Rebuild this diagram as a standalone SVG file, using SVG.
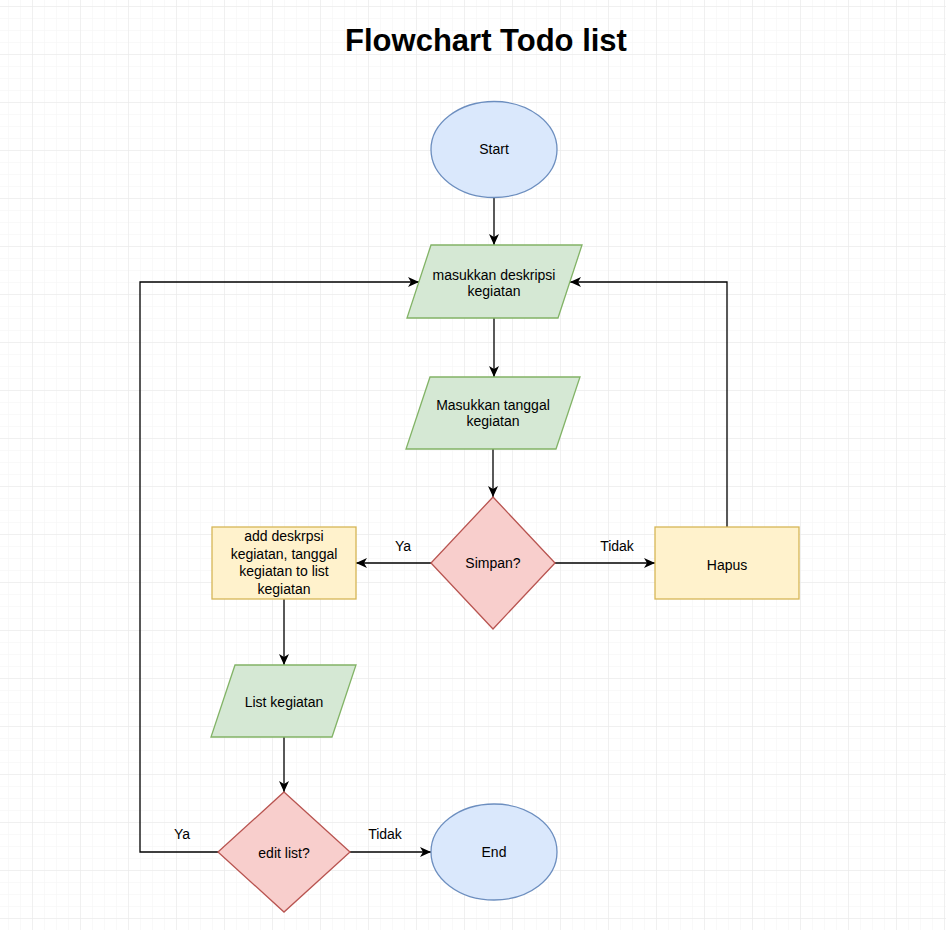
<svg xmlns="http://www.w3.org/2000/svg" width="946" height="930" viewBox="0 0 946 930">
<style>
text{font-family:"Liberation Sans",Arial,sans-serif;font-size:14px;fill:#000;text-anchor:middle}
.title{font-size:31px;font-weight:bold}
.blue{fill:#dae8fc;stroke:#6c8ebf;stroke-width:1.3}
.green{fill:#d5e8d4;stroke:#82b366;stroke-width:1.3}
.red{fill:#f8cecc;stroke:#b85450;stroke-width:1.3}
.yellow{fill:#fff2cc;stroke:#d6b656;stroke-width:1.3}
.edge{fill:none;stroke:#000;stroke-width:1.3;marker-end:url(#arr)}
</style>
<defs>
<pattern id="minor" x="8" y="6" width="12" height="12" patternUnits="userSpaceOnUse"><path d="M12,0 L0,0 L0,12" fill="none" stroke="#f4f4f4" stroke-width="1"/></pattern>
<pattern id="major" x="32" y="6" width="48" height="48" patternUnits="userSpaceOnUse"><path d="M48,0 L0,0 L0,48" fill="none" stroke="#e8e8e8" stroke-width="1"/></pattern>
<marker id="arr" markerWidth="12" markerHeight="10" refX="11" refY="5" orient="auto" markerUnits="userSpaceOnUse"><path d="M0,0 L11,5 L0,10 L3,5 Z" fill="#000"/></marker>
</defs>
<rect width="946" height="930" fill="#fff"/>
<rect width="946" height="930" fill="url(#minor)"/>
<rect width="946" height="930" fill="url(#major)"/>
<text class="title" x="486" y="51">Flowchart Todo list</text>
<g id="connectors">
<path class="edge" d="M494,197 V245"/>
<path class="edge" d="M494,318 V377"/>
<path class="edge" d="M493,449 V497"/>
<path class="edge" d="M431,563 H356"/>
<path class="edge" d="M555,563 H655"/>
<path class="edge" d="M727,527 V282 H570"/>
<path class="edge" d="M284,599 V665"/>
<path class="edge" d="M284,737 V792"/>
<path class="edge" d="M218,852 H140 V282 H419"/>
<path class="edge" d="M350,852 H431"/>
<text x="403" y="551">Ya</text>
<text x="617" y="551">Tidak</text>
<text x="182" y="839">Ya</text>
<text x="385" y="839">Tidak</text>
</g>
<g id="start"><ellipse class="blue" cx="494" cy="149.5" rx="63" ry="48"/><text x="494" y="154">Start</text></g>
<g id="input-deskripsi"><polygon class="green" points="431,245 582,245 558,318 407,318"/><text x="494" y="280">masukkan deskripsi</text><text x="494" y="296">kegiatan</text></g>
<g id="input-tanggal"><polygon class="green" points="430,377 580,377 556,449 406,449"/><text x="493" y="410">Masukkan tanggal</text><text x="493" y="426">kegiatan</text></g>
<g id="simpan"><polygon class="red" points="493,497 555,563 493,629 431,563"/><text x="493" y="568">Simpan?</text></g>
<g id="add"><rect class="yellow" x="212" y="527" width="144" height="72"/><text x="284" y="541">add deskrpsi</text><text x="284" y="559">kegiatan, tanggal</text><text x="284" y="576">kegiatan to list</text><text x="284" y="594">kegiatan</text></g>
<g id="hapus"><rect class="yellow" x="655" y="527" width="144" height="72"/><text x="727" y="570">Hapus</text></g>
<g id="list"><polygon class="green" points="235,665 356,665 332,737 211,737"/><text x="284" y="707">List kegiatan</text></g>
<g id="edit"><polygon class="red" points="284,792 350,852 284,912 218,852"/><text x="284" y="858">edit list?</text></g>
<g id="end"><ellipse class="blue" cx="494" cy="852" rx="63" ry="48"/><text x="494" y="857">End</text></g>
</svg>
